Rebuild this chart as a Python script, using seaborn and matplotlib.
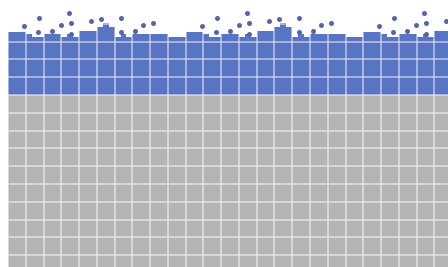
import numpy as np
import pandas as pd
import matplotlib
matplotlib.use("Agg")
import matplotlib.pyplot as plt
import seaborn as sns

# bar tops (gray base = 100, blue part stacked above it)
bar_top = [135.6, 135.6, 135.6, 134.4, 132.8, 132.8, 134.4, 134.4, 134.4, 132.8,
           134.4, 132.8, 136.1, 136.1, 136.1, 138.4, 140.3, 138.4, 132.8, 134.4,
           132.8, 134.3, 134.3, 134.3, 134.3, 134.3, 134.3, 132.4, 132.4, 132.4,
           135.6, 135.6, 135.6, 134.4, 132.8, 132.8, 134.4, 134.4, 134.4, 132.8,
           134.4, 132.8, 136.1, 136.1, 136.1, 138.4, 140.3, 138.4, 132.8, 134.4,
           132.8, 134.3, 134.3, 134.3, 134.3, 134.3, 134.3, 132.4, 132.4, 132.4,
           135.6, 135.6, 135.6, 134.4, 132.8, 132.8, 134.4, 134.4, 134.4, 132.8,
           134.4, 132.8, 136.1, 136.1, 136.1]
base = [100] * len(bar_top)

dot_x = [2.2, 4.74, 4.57, 6.93, 8.45, 9.8, 10.14, 10.14, 13.52, 15.21,
         18.59, 18.59, 20.95, 22.3, 23.99,
         32.2, 34.74, 34.57, 36.93, 38.45, 39.8, 40.14, 40.14, 43.52, 45.21,
         48.59, 48.59, 50.95, 52.3, 53.99,
         62.2, 64.74, 64.57, 66.93, 68.45, 69.8, 70.14, 70.14, 73.52]
dot_y = [138.8, 143.3, 135.4, 136.0, 139.3, 146.1, 140.4, 134.3, 141.6, 142.7,
         143.3, 135.4, 136.0, 139.3, 140.4,
         138.8, 143.3, 135.4, 136.0, 139.3, 146.1, 140.4, 134.3, 141.6, 142.7,
         143.3, 135.4, 136.0, 139.3, 140.4,
         138.8, 143.3, 135.4, 136.0, 139.3, 146.1, 140.4, 134.3, 141.6]

bars = pd.DataFrame({"pos": np.arange(len(bar_top)), "top": bar_top, "base": base})

fig = plt.figure(figsize=(4.48, 2.67), dpi=100)
ax = fig.add_axes([0, 0, 1, 1])

sns.barplot(data=bars, x="pos", y="top", color="#5a74c4", saturation=1,
            width=1, linewidth=0, ax=ax)
sns.barplot(data=bars, x="pos", y="base", color="#b4b4b4", saturation=1,
            width=1, linewidth=0, ax=ax)
sns.scatterplot(x=dot_x, y=dot_y, color="#5266ad", s=13, linewidth=0, ax=ax, zorder=5)

# grid on top of the bars
ax.set_xticks(np.arange(-0.5, 75, 3))
ax.set_yticks(np.arange(10, 150, 10))
ax.grid(True, color="white", alpha=0.5, linewidth=1.3)
ax.set_axisbelow(False)
ax.tick_params(length=0, labelbottom=False, labelleft=False)
ax.set_xlim(-1.85, 73.8)
ax.set_ylim(3.4, 153.4)
ax.set_xlabel("")
ax.set_ylabel("")
for s in ax.spines.values():
    s.set_visible(False)

fig.savefig("out.png", dpi=100)
